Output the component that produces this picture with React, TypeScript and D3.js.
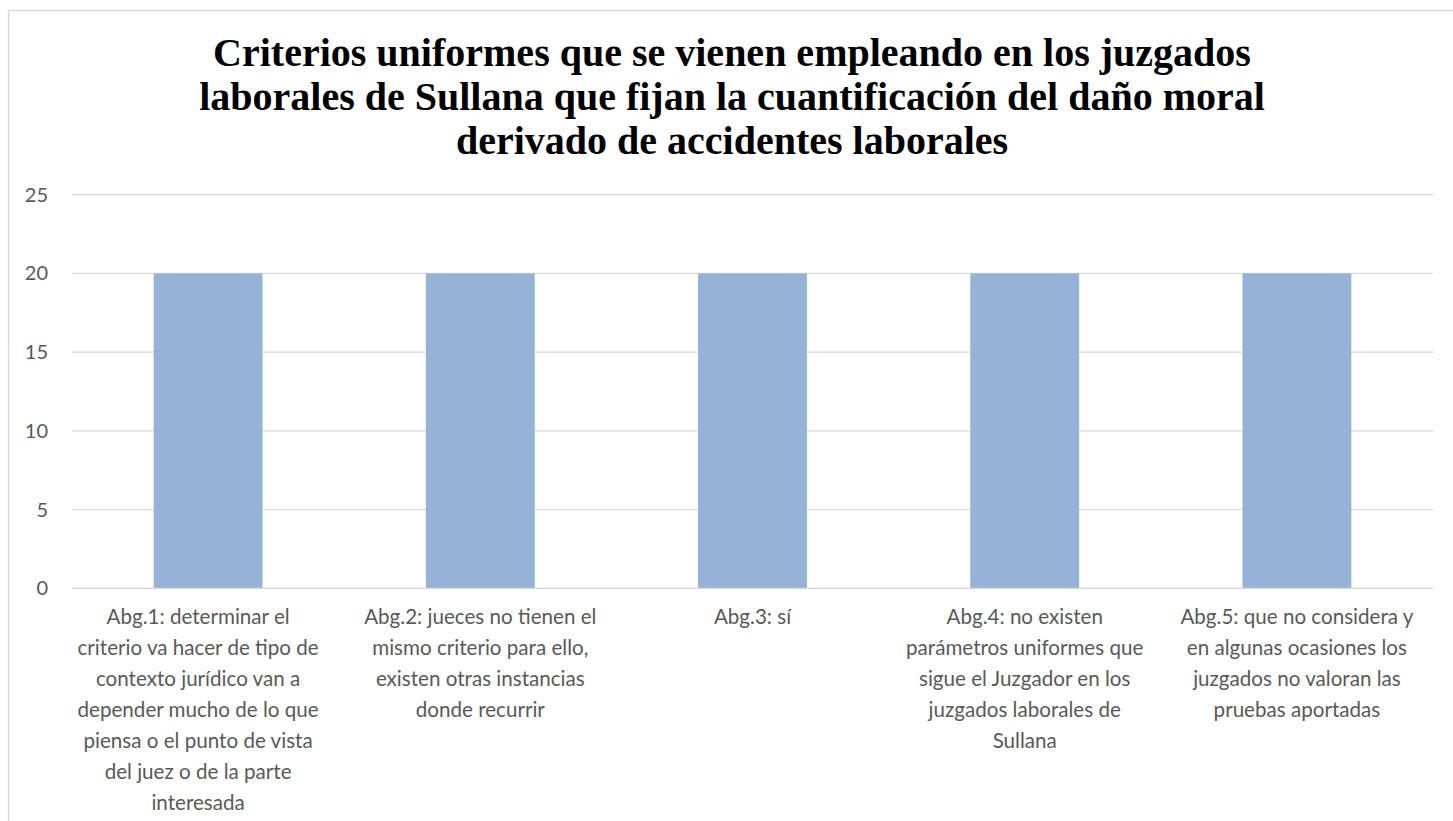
import React from "react";
import * as d3 from "d3";

const titleLines = [
  "Criterios uniformes que se vienen empleando en los juzgados",
  "laborales de Sullana que fijan la cuantificación del daño moral",
  "derivado de accidentes laborales",
];

const categories = ["Abg.1", "Abg.2", "Abg.3", "Abg.4", "Abg.5"];
const values = [20, 20, 20, 20, 20];
const categoryLabelLines = [
  [
    "Abg.1: determinar el",
    "criterio va hacer de tipo de",
    "contexto jurídico van a",
    "depender mucho de lo que",
    "piensa o el punto de vista",
    "del juez o de la parte",
    "interesada",
  ],
  [
    "Abg.2: jueces no tienen el",
    "mismo criterio para ello,",
    "existen otras instancias",
    "donde recurrir",
  ],
  ["Abg.3: sí"],
  [
    "Abg.4: no existen",
    "parámetros uniformes que",
    "sigue el Juzgador en los",
    "juzgados laborales de",
    "Sullana",
  ],
  [
    "Abg.5: que no considera y",
    "en algunas ocasiones los",
    "juzgados no valoran las",
    "pruebas aportadas",
  ],
];
const yTicks = [0, 5, 10, 15, 20, 25];

const W = 1453;
const H = 821;
const plot = { left: 72, right: 1433, top: 194.7, bottom: 588.3 };
const labelFont = "Lato, 'Open Sans', sans-serif";
const labelSize = 20.6;

export default function App() {
  const x = d3
    .scaleBand<string>()
    .domain(categories)
    .range([plot.left, plot.right])
    .paddingInner(0.6)
    .paddingOuter(0.3);
  const y = d3.scaleLinear().domain([0, 25]).range([plot.bottom, plot.top]);
  // the first, widest label is nudged left, as in the source chart
  const firstLabelNudge = -10;

  return (
    <div style={{ position: "absolute", left: 0, top: 0 }}>
      <svg width={W} height={H} style={{ display: "block" }}>
        <rect x={0} y={0} width={W} height={H} fill="#ffffff" />
        <rect
          x={8.5}
          y={10.5}
          width={W + 10}
          height={H + 10}
          fill="none"
          stroke="#d9d9d9"
          strokeWidth={1.5}
        />
        <g>
          {titleLines.map((t, i) => (
            <text
              key={i}
              x={732}
              y={65.5 + i * 44}
              textAnchor="middle"
              fontFamily="'Liberation Serif', serif"
              fontWeight="bold"
              fontSize={40}
              fill="#000000"
            >
              {t}
            </text>
          ))}
        </g>
        <g>
          {yTicks.map((t) => (
            <g key={t}>
              <line
                x1={plot.left}
                x2={plot.right}
                y1={y(t)}
                y2={y(t)}
                stroke="#d9d9d9"
                strokeWidth={1.3}
              />
              <text
                x={48}
                y={y(t)}
                dy="0.35em"
                textAnchor="end"
                fontFamily={labelFont}
                fontSize={20}
                fill="#595959"
              >
                {t}
              </text>
            </g>
          ))}
        </g>
        <g>
          {categories.map((c, i) => (
            <rect
              key={c}
              x={x(c)}
              y={y(values[i])}
              width={x.bandwidth()}
              height={y(0) - y(values[i])}
              fill="#95b3d7"
            />
          ))}
        </g>
        <line
          x1={plot.left}
          x2={plot.right}
          y1={y(0)}
          y2={y(0)}
          stroke="#d9d9d9"
          strokeWidth={1.3}
        />
        <g>
          {categories.map((c, i) => {
            const cx =
              (x(c) as number) + x.bandwidth() / 2 + (i === 0 ? firstLabelNudge : 0);
            return (
              <text
                key={c}
                textAnchor="middle"
                fontFamily={labelFont}
                fontSize={labelSize}
                fill="#595959"
              >
                {categoryLabelLines[i].map((ln, j) => (
                  <tspan key={j} x={cx} y={617 + j * 31} dy="0.35em">
                    {ln}
                  </tspan>
                ))}
              </text>
            );
          })}
        </g>
      </svg>
    </div>
  );
}
